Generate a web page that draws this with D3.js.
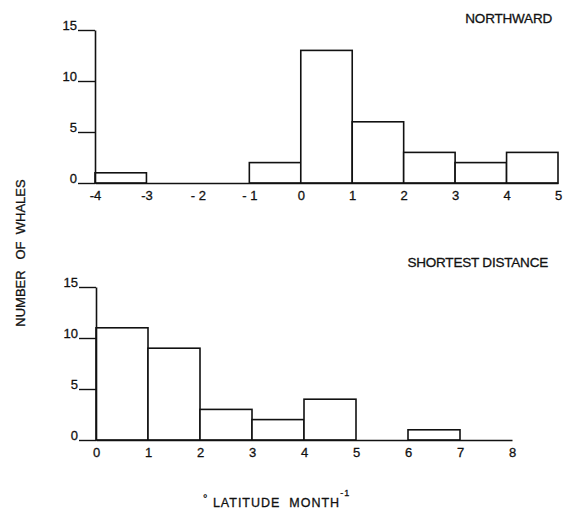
<!DOCTYPE html>
<html><head><meta charset="utf-8">
<script src="https://cdn.jsdelivr.net/npm/d3@7"></script>
<style>body{margin:0;background:#fff}svg{display:block}text{font-family:"Liberation Sans",Arial,sans-serif;fill:#111;stroke:#111;stroke-width:0.3px;white-space:pre}</style>
</head><body>
<script>
// Top panel: northward movement
const northBins = [-4,-3,-2,-1,0,1,2,3,4];
const northCounts = [1,0,0,2,13,6,3,2,3];
const northTicks = [-4,-3,-2,-1,0,1,2,3,4,5];
const northTickLabels = ["-4","-3","- 2","- 1","0","1","2","3","4","5"];
// Bottom panel: shortest distance
const shortBins = [0,1,2,3,4,5,6,7];
const shortCounts = [11,9,3,2,4,0,1,0];
const shortTicks = [0,1,2,3,4,5,6,7,8];
const yTicks = [0,5,10,15];

const W=563,H=509;
const svg=d3.select("body").append("svg").attr("width",W).attr("height",H);

function panel(bins,counts,ticks,labels,x0,x1,xmin,xmax,yTop,yBase,title,tx,ty){
  const x=d3.scaleLinear().domain([xmin,xmax]).range([x0,x1]);
  const y=d3.scaleLinear().domain([0,15]).range([yBase,yTop]);
  const g=svg.append("g");
  g.selectAll("rect").data(bins.map((b,i)=>({b,c:counts[i]})).filter(d=>d.c>0))
    .enter().append("rect")
    .attr("x",d=>x(d.b)).attr("y",d=>y(d.c))
    .attr("width",d=>x(d.b+1)-x(d.b)).attr("height",d=>y(0)-y(d.c))
    .attr("fill","#fff").attr("stroke","#111").attr("stroke-width",1.6);
  const ya=g.append("g").attr("transform",`translate(${x0},0)`)
    .call(d3.axisLeft(y).tickValues(yTicks).tickSize(17).tickSizeOuter(0).tickPadding(1));
  ya.select(".domain").attr("stroke","#111").attr("stroke-width",1.6);
  ya.selectAll(".tick line").attr("stroke","#111").attr("stroke-width",1.4);
  ya.selectAll(".tick text").attr("font-size",13).attr("dy","-0.05em").style("font-family",'"Liberation Sans",Arial,sans-serif');
  const xa=g.append("g").attr("transform",`translate(0,${yBase})`)
    .call(d3.axisBottom(x).tickValues(ticks).tickSize(0).tickPadding(8).tickFormat((d,i)=>labels[i]));
  xa.select(".domain").attr("stroke","#111").attr("stroke-width",1.6);
  xa.selectAll(".tick text").attr("font-size",13).style("font-family",'"Liberation Sans",Arial,sans-serif');
  svg.append("text").attr("x",tx).attr("y",ty).attr("text-anchor","end")
    .attr("font-size",13.5).attr("letter-spacing","-0.2").text(title);
}

panel(northBins,northCounts,northTicks,northTickLabels,95,558,-4,5,30,183,"NORTHWARD",552,23);
panel(shortBins,shortCounts,shortTicks,shortTicks.map(String),96,512,0,8,287,440,"SHORTEST DISTANCE",548,267);

svg.append("text").attr("transform","translate(25,253) rotate(-90)")
  .attr("text-anchor","middle").attr("font-size",13).attr("letter-spacing","0").text("NUMBER   OF  WHALES");

const xt=svg.append("text").attr("x",203).attr("y",507).attr("font-size",12.5).attr("letter-spacing","1");
xt.append("tspan").attr("font-size",11).attr("dy","-5").text("°");
xt.append("tspan").attr("dy","5").text(" LATITUDE  MONTH");
xt.append("tspan").attr("font-size",9).attr("dy","-11").text("-1");
</script>
</body></html>
